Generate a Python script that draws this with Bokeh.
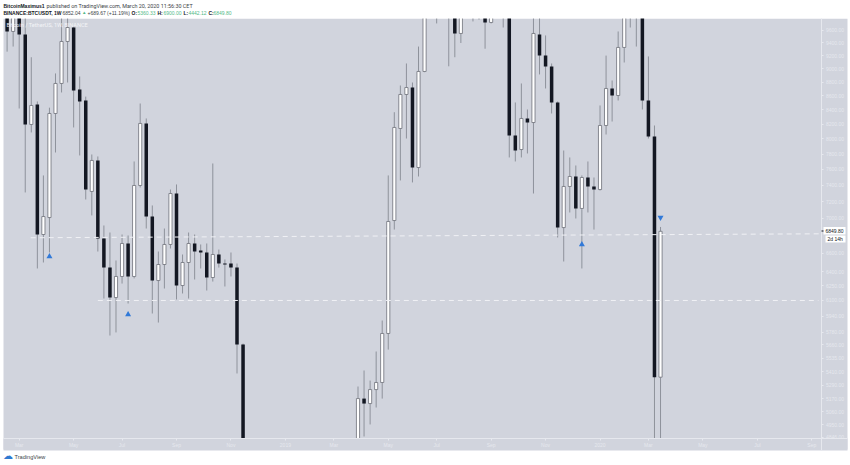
from bokeh.embed import file_html
from bokeh.resources import INLINE
from bokeh.plotting import figure
from bokeh.models import (BoxAnnotation, FixedTicker, Label, LinearAxis, LogAxis, LogScale,
                          NumeralTickFormatter, Range1d)

opens = [11000, 9584, 11050, 9536, 8197, 8477, 6813, 7010, 8350, 8782,
         9424, 9648, 8693, 8534, 7324, 7716, 6768, 6445, 6128, 6349,
         6711, 6349, 7398, 8211, 7022, 6306, 6478, 6700, 7299, 6253,
         6500, 6711, 6632, 6610, 6338, 6588, 6489, 6489, 6445, 5663,
         4020, 3950, 3420, 3210, 3930, 3840, 3790, 3900, 3540, 3530,
         3530, 3460, 3650, 3960, 3790, 3880, 3950, 3960, 4080, 5171,
         5128, 5250, 5313, 5769, 6975, 8142, 8621, 8722, 7625, 8961,
         10800, 10650, 11800, 13000, 11300, 9552, 10400, 10200, 10900, 11300,
         9730, 10300, 10400, 10300, 8047, 7859, 8280, 8224, 9536, 9203,
         9037, 8506, 6893, 7386, 7511, 7118, 7498, 7386, 7348, 8183,
         8708, 8606, 9330, 10200, 10300, 9950, 8534, 8033, 5360.33]
highs = [11500, 11700, 11500, 9900, 9178, 8520, 7524, 8432, 8931, 9950,
         9990, 9665, 8886, 8590, 7794, 7768, 6917, 6836, 6522, 6813,
         6802, 7703, 8491, 8280, 7154, 6621, 6882, 7348, 7411, 6588,
         6836, 6813, 6700, 6711, 7677, 6643, 6533, 6610, 6489, 5672,
         4320, 4000, 3500, 4100, 4250, 4000, 3950, 4080, 3780, 3650,
         3570, 3700, 4180, 4220, 3970, 4000, 4030, 4110, 5277, 5421,
         5330, 5597, 5896, 7524, 8368, 8752, 9082, 8796, 9344, 11000,
         11200, 12200, 13800, 13200, 11500, 11000, 10900, 12300, 12000, 11400,
         10950, 10900, 10500, 10400, 8506, 8782, 8406, 10350, 10350, 9520,
         9082, 8520, 7846, 7755, 7651, 7524, 7703, 7498, 8463, 9203,
         8826, 9584, 10500, 10500, 10500, 10000, 9190, 8183, 6900.00]
lows = [9264, 9344, 8420, 7312, 8088, 6435, 6500, 6610, 7820, 8650,
        8796, 8156, 7781, 7226, 7035, 6621, 6118, 5749, 5779, 6274,
        6067, 6328, 7373, 6882, 5966, 5876, 6222, 6655, 6108, 6170,
        6118, 6317, 6435, 6201, 6295, 6445, 6243, 6349, 5394, 3650,
        3650, 3300, 3150, 3120, 3650, 3700, 3620, 3440, 3500, 3450,
        3350, 3370, 3600, 3700, 3650, 3820, 3880, 3900, 4050, 4852,
        4951, 5094, 5171, 5615, 6870, 7461, 8006, 7436, 7511, 8950,
        9900, 9714, 11100, 9039, 9178, 9400, 9900, 9747, 9777, 9310,
        9714, 10000, 9648, 7755, 7703, 7755, 7807, 7299, 8916, 8708,
        8350, 6779, 6511, 7070, 6999, 6435, 7070, 6870, 7336, 8060,
        8238, 8534, 9097, 9648, 9344, 8406, 8006, 3782, 4442.12]
closes = [9584, 11050, 9536, 8197, 8463, 6813, 7022, 8350, 8782, 9424,
          9648, 8679, 8520, 7348, 7716, 6768, 6445, 6128, 6349, 6711,
          6349, 7398, 8211, 7022, 6306, 6478, 6700, 7299, 6253, 6500,
          6711, 6621, 6610, 6338, 6588, 6489, 6478, 6445, 5663, 4020,
          3950, 3420, 3210, 3930, 3840, 3790, 3900, 3540, 3530, 3530,
          3460, 3650, 3960, 3790, 3880, 3950, 3960, 4080, 5171, 5128,
          5250, 5313, 5769, 6964, 8156, 8621, 8722, 7625, 8961, 10800,
          10650, 11800, 13000, 11300, 9552, 10400, 10200, 10900, 11300, 9730,
          10300, 10400, 10300, 8047, 7846, 8280, 8224, 9552, 9203, 9037,
          8506, 6893, 7386, 7511, 7118, 7498, 7386, 7348, 8183, 8708,
          8606, 9330, 10200, 10300, 9950, 8534, 8033, 5360.33, 6849.80]

price_ticks = [9600, 9400, 9200, 9000, 8800, 8600, 8400, 8200, 8000, 7800, 7600, 7400, 7200,
               7000, 6600, 6400, 6250, 6100, 5940, 5780, 5660, 5535, 5410, 5290, 5170, 5060, 4950, 4846]
week_ticks = [2, 11, 19, 28, 37, 46, 54, 63, 71, 80, 89, 98, 106, 115, 124, 133]
week_labels = ["Mar", "May", "Jul", "Sep", "Nov", "2019", "Mar", "May", "Jul", "Sep", "Nov",
               "2020", "Mar", "May", "Jul", "Sep"]

line_a_weeks = [3.9, 134.3]
line_a_prices = [6776, 6821]
line_b_weeks = [15, 134.1]
line_b_prices = [6098, 6098]

up_weeks = [7, 20, 95]
up_prices = [6566, 5956, 6700]
down_weeks = [108]
down_prices = [7010]

BG = "#d1d4dd"
AXIS = "#e6e8ee"
WICK = "#8e929b"
DARK = "#131722"
TEAL = "#53b987"
BLUE = "#3179d8"
FONT = "Liberation Sans"
VIEW_TOP = 9950  # prices above this lie under the header mask

weeks = list(range(len(opens)))
up = [i for i in weeks if closes[i] >= opens[i]]
down = [i for i in weeks if closes[i] < opens[i]]


def cap(v):
    return min(v, VIEW_TOP)


# the frame spans the whole canvas: range ends correspond to the canvas edges
p = figure(width=850, height=465, output_backend="svg", toolbar_location=None,
           y_axis_type=None, x_axis_type=None,
           x_range=Range1d(-1.09, 139.4), y_range=Range1d(4621, 10096),
           min_border_left=0, min_border_right=0, min_border_top=0, min_border_bottom=0,
           background_fill_color="white", border_fill_color="white", outline_line_color=None)
p.y_scale = LogScale()
p.grid.visible = False


def box(l, r, t, b, color, level):
    p.add_layout(BoxAnnotation(left=l, right=r, top=t, bottom=b,
                               left_units="canvas", right_units="canvas",
                               top_units="canvas", bottom_units="canvas",
                               fill_color=color, fill_alpha=1, line_color=None, level=level))


box(3, 847, 18, 450, BG, "underlay")

p.segment(weeks, [cap(v) for v in lows], weeks, [cap(v) for v in highs], line_color=WICK, line_width=1)
p.vbar(x=[weeks[i] for i in down], width=0.58,
       bottom=[cap(closes[i]) for i in down], top=[cap(opens[i]) for i in down],
       fill_color=DARK, line_color=None)
p.vbar(x=[weeks[i] for i in up], width=0.52,
       bottom=[cap(opens[i]) for i in up], top=[cap(closes[i]) for i in up],
       fill_color="white", line_color="#6d7079", line_width=0.8)

# masks keep the candles inside the chart pane
box(-10, 860, -10, 18, "white", "glyph")
box(-10, 860, 449, 475, "white", "glyph")
box(3, 847, 438, 450, BG, "glyph")

yaxis = LogAxis(ticker=FixedTicker(ticks=price_ticks), formatter=NumeralTickFormatter(format="0.00"),
                fixed_location=134.67, bounds=(4739, 9795))
xaxis = LinearAxis(ticker=FixedTicker(ticks=week_ticks),
                   major_label_overrides=dict(zip(week_ticks, week_labels)),
                   fixed_location=4836, bounds=(-0.6, 138.9))
for ax in (yaxis, xaxis):
    ax.axis_line_color = AXIS
    ax.axis_line_width = 1
    ax.major_tick_line_color = AXIS
    ax.major_tick_in = 0
    ax.major_tick_out = 2
    ax.minor_tick_line_color = None
    ax.major_label_text_color = AXIS
    ax.major_label_text_font = FONT
    ax.major_label_text_font_size = "5px"
    ax.major_label_standoff = 2
p.add_layout(yaxis, "right")
p.add_layout(xaxis, "below")

p.line(line_a_weeks, line_a_prices, line_color="#f0f1f5", line_width=1, line_dash=[5, 4])
p.line(line_b_weeks, line_b_prices, line_color="#f0f1f5", line_width=1, line_dash=[5, 4])

p.scatter(up_weeks, up_prices, marker="triangle", size=6, fill_color=BLUE, line_color=None)
p.scatter(down_weeks, down_prices, marker="inverted_triangle", size=6, fill_color=BLUE, line_color=None)


def text(x, y, s, color="#131722", size="5px", style="normal", font=FONT):
    p.add_layout(Label(x=x, y=y, x_units="canvas", y_units="canvas", text=s, text_color=color,
                       text_font=font, text_font_size=size, text_font_style=style,
                       text_baseline="middle"))


text(3, 5.5, "BitcoinMaximus1", style="bold")
text(46, 5.5, "published on TradingView.com, March 20, 2020 11:56:30 CET", color="#3c3f47",
     size="5.4px", font="Roboto")
text(3, 12, "BINANCE:BTCUSDT, 1W", style="bold")
text(62, 12, "6852.04", color="#3c3f47")
text(81.5, 12, "▲", color=TEAL, size="4.5px")
text(87, 12, "+689.67 (+11.19%)", color="#3c3f47")
text(131, 12, "O:", style="bold")
text(137, 12, "5360.33", color=TEAL)
text(157, 12, "H:", style="bold")
text(163, 12, "6900.00", color=TEAL)
text(183, 12, "L:", style="bold")
text(188, 12, "4442.12", color=TEAL)
text(208, 12, "C:", style="bold")
text(213, 12, "6849.80", color=TEAL)

text(6, 24.5, "Bitcoin / TetherUS, 1W, BINANCE", color="#f4f5f8", size="5.6px", font="Roboto")

box(823, 845, 226.5, 234, "white", "annotation")
box(825, 845, 235, 242, "white", "annotation")
box(821, 823, 230, 231, DARK, "annotation")
text(825, 230.5, "6849.80")
text(827, 238.5, "2d 14h")

text(2.5, 455, "☁", color="#2f7ad1", size="10px")
text(14, 456, "TradingView", color="#3c3f47", size="5.6px")

open("out.html", "w").write(file_html(p, INLINE))
